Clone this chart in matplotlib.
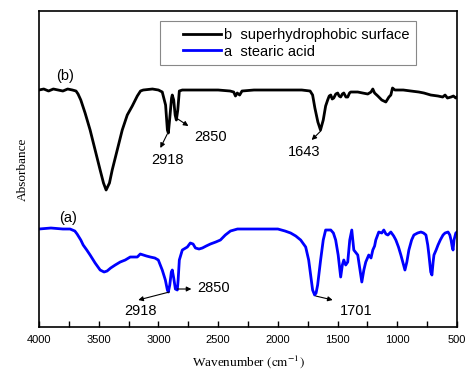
import matplotlib
matplotlib.use('Agg')
import matplotlib.pyplot as plt
from matplotlib.legend_handler import HandlerLine2D
from matplotlib.ticker import MultipleLocator

plt.rcParams['mathtext.fontset'] = 'stix'

# FTIR spectra (wavenumber, absorbance in arbitrary units)
wn_b = [4000, 3960, 3920, 3880, 3840, 3800, 3760, 3720, 3690, 3673, 3650, 3614,
        3572, 3530, 3488, 3460, 3438, 3410, 3387, 3345, 3303, 3261, 3219, 3177,
        3150, 3127, 3050, 3000, 2968, 2940, 2925, 2917, 2905, 2890, 2884, 2872,
        2860, 2850, 2838, 2825, 2800, 2700, 2600, 2500, 2400, 2370, 2355, 2340,
        2320, 2300, 2200, 2000, 1800, 1730, 1709, 1690, 1665, 1643, 1620, 1600,
        1583, 1570, 1557, 1545, 1532, 1515, 1499, 1487, 1474, 1460, 1448, 1430,
        1415, 1400, 1390, 1360, 1331, 1290, 1247, 1220, 1205, 1190, 1163, 1130,
        1096, 1070, 1054, 1040, 1020, 995, 950, 886, 820, 777, 720, 659, 620,
        600, 580, 550, 530, 510, 500]
abs_b = [2.37, 2.38, 2.36, 2.38, 2.37, 2.36, 2.38, 2.37, 2.36, 2.33, 2.27, 2.14,
         1.97, 1.77, 1.57, 1.44, 1.37, 1.44, 1.57, 1.77, 1.97, 2.12, 2.21, 2.31,
         2.36, 2.37, 2.38, 2.37, 2.35, 2.22, 1.97, 1.94, 2.09, 2.29, 2.32, 2.27,
         2.12, 2.07, 2.17, 2.36, 2.37, 2.37, 2.37, 2.37, 2.36, 2.35, 2.31, 2.34,
         2.32, 2.36, 2.37, 2.37, 2.37, 2.36, 2.32, 2.19, 2.05, 1.97, 2.07, 2.21,
         2.27, 2.31, 2.32, 2.28, 2.29, 2.33, 2.34, 2.31, 2.30, 2.33, 2.34, 2.30,
         2.30, 2.34, 2.35, 2.35, 2.35, 2.34, 2.33, 2.35, 2.38, 2.34, 2.31, 2.27,
         2.25, 2.30, 2.32, 2.39, 2.37, 2.37, 2.37, 2.36, 2.35, 2.34, 2.32, 2.31,
         2.30, 2.32, 2.29, 2.30, 2.31, 2.29, 2.30]

wn_a = [4000, 3900, 3800, 3740, 3700, 3681, 3650, 3630, 3600, 3572, 3530, 3488,
        3455, 3430, 3400, 3362, 3320, 3278, 3236, 3177, 3152, 3100, 3068, 3030,
        3001, 2968, 2942, 2925, 2917, 2905, 2892, 2884, 2872, 2858, 2842, 2835,
        2825, 2800, 2758, 2733, 2710, 2690, 2660, 2632, 2600, 2565, 2520, 2481,
        2440, 2397, 2338, 2250, 2150, 2000, 1940, 1893, 1850, 1809, 1767, 1742,
        1720, 1709, 1692, 1680, 1667, 1642, 1620, 1600, 1557, 1535, 1516, 1495,
        1474, 1460, 1448, 1432, 1415, 1398, 1381, 1364, 1331, 1315, 1297, 1280,
        1264, 1239, 1220, 1205, 1190, 1180, 1155, 1130, 1113, 1095, 1079, 1054,
        1030, 1012, 990, 970, 950, 936, 920, 903, 880, 861, 830, 802, 780, 760,
        745, 735, 720, 710, 700, 693, 675, 659, 640, 617, 600, 575, 560, 550,
        540, 533, 525, 510, 500]
abs_a = [0.98, 0.99, 0.98, 0.98, 0.96, 0.93, 0.87, 0.82, 0.77, 0.72, 0.64, 0.57,
         0.55, 0.56, 0.59, 0.62, 0.65, 0.67, 0.70, 0.70, 0.73, 0.71, 0.70, 0.69,
         0.67, 0.57, 0.47, 0.37, 0.35, 0.42, 0.55, 0.57, 0.49, 0.38, 0.37, 0.47,
         0.67, 0.77, 0.80, 0.84, 0.83, 0.79, 0.78, 0.79, 0.81, 0.83, 0.85, 0.87,
         0.92, 0.96, 0.98, 0.98, 0.98, 0.98, 0.96, 0.94, 0.91, 0.87, 0.80, 0.67,
         0.47, 0.37, 0.32, 0.34, 0.42, 0.67, 0.87, 0.97, 0.97, 0.94, 0.87, 0.72,
         0.50, 0.62, 0.67, 0.62, 0.65, 0.87, 0.97, 0.77, 0.72, 0.59, 0.45, 0.57,
         0.65, 0.72, 0.69, 0.77, 0.81, 0.87, 0.95, 0.94, 0.97, 0.93, 0.92, 0.95,
         0.91, 0.87, 0.80, 0.72, 0.63, 0.57, 0.65, 0.77, 0.87, 0.92, 0.94, 0.95,
         0.94, 0.92, 0.82, 0.72, 0.55, 0.52, 0.65, 0.72, 0.77, 0.82, 0.87, 0.92,
         0.94, 0.95, 0.92, 0.87, 0.80, 0.77, 0.87, 0.94, 0.95]

label_b = 'b  superhydrophobic surface'
label_a = 'a  stearic acid'


class ShiftedLine(HandlerLine2D):
    # draws the legend line only on the right part of the handle box
    def create_artists(self, legend, orig_handle, xdescent, ydescent,
                       width, height, fontsize, trans):
        shift = 1.15 * fontsize
        return super().create_artists(legend, orig_handle, xdescent - shift,
                                      ydescent, width - shift, height,
                                      fontsize, trans)


fig = plt.figure(figsize=(4.67, 3.77), dpi=100)
ax = fig.add_axes([0.0835, 0.1326, 0.8951, 0.8382])

lb, = ax.plot(wn_b, abs_b, color='black', lw=2.0, label=label_b)
la, = ax.plot(wn_a, abs_a, color='blue', lw=2.0, label=label_a)

ax.set_xlim(4000, 500)
ax.set_ylim(0, 3.16)
ax.xaxis.set_major_locator(MultipleLocator(500))
ax.xaxis.set_minor_locator(MultipleLocator(250))
ax.tick_params(axis='x', which='both', direction='in', length=4, width=1,
               top=False, labelsize=8, pad=6)
ax.set_yticks([])
for s in ax.spines.values():
    s.set_linewidth(1.2)
for t in ax.get_xticklabels():
    t.set_family('Liberation Sans')

ax.set_xlabel(r'Wavenumber $\left(\mathrm{cm}^{-1}\right)$',
              family='Liberation Serif', fontsize=9.5, labelpad=6)
ax.set_ylabel('Absorbance', family='Liberation Serif', fontsize=9.5,
              labelpad=7)

leg = ax.legend(handles=[lb, la], loc='upper right',
                bbox_to_anchor=(0.902, 0.968), borderaxespad=0,
                fancybox=False, edgecolor='#888888', framealpha=1,
                handlelength=3.75, handletextpad=0.2, labelspacing=0.2,
                borderpad=0.45, prop={'family': 'Liberation Sans', 'size': 10.5},
                handler_map={lb: ShiftedLine(), la: ShiftedLine()})
leg.get_frame().set_linewidth(0.8)

txt = dict(family='Liberation Sans', fontsize=10.5, ha='center', va='center')
arr = dict(arrowstyle='-|>', color='black', lw=0.8, mutation_scale=7,
           shrinkA=0, shrinkB=0)

ax.text(3782, 2.51, '(b)', **txt)
ax.text(3757, 1.09, '(a)', **txt)

# curve b labels
ax.text(2926, 1.67, '2918', **txt)
ax.annotate('', xy=(2984, 1.79), xytext=(2926, 1.93), arrowprops=arr)
ax.text(2565, 1.90, '2850', **txt)
ax.annotate('', xy=(2749, 2.01), xytext=(2850, 2.09), arrowprops=arr)
ax.text(1784, 1.75, '1643', **txt)
ax.annotate('', xy=(1717, 1.87), xytext=(1641, 1.96), arrowprops=arr)

# curve a labels
ax.text(3152, 0.16, '2918', **txt)
ax.annotate('', xy=(3169, 0.27), xytext=(2909, 0.35), arrowprops=arr)
ax.text(2540, 0.39, '2850', **txt)
ax.annotate('', xy=(2724, 0.38), xytext=(2842, 0.38), arrowprops=arr)
ax.text(1348, 0.16, '1701', **txt)
ax.annotate('', xy=(1541, 0.27), xytext=(1683, 0.31), arrowprops=arr)

fig.savefig('out.png', dpi=100)
